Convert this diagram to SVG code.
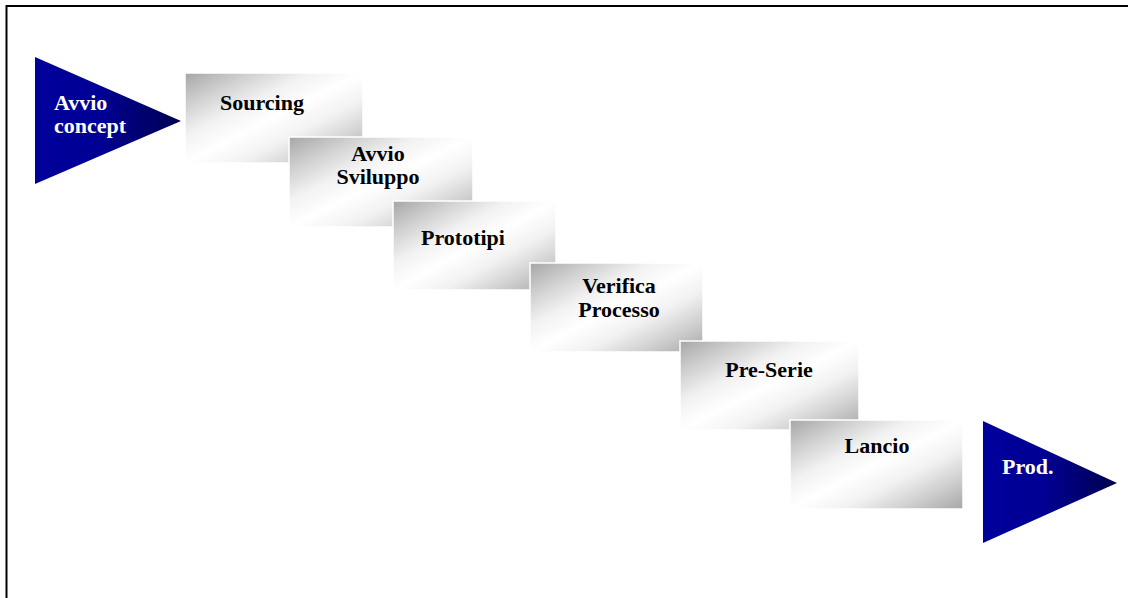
<svg xmlns="http://www.w3.org/2000/svg" width="1128" height="598" viewBox="0 0 1128 598">
  <style>
    .step { stroke: #ffffff; stroke-width: 1.5; fill: url(#steel); }
    .lbl { font-family: "Liberation Serif", "Times New Roman", serif; font-size: 22px; font-weight: bold; fill: #000000; text-anchor: middle; }
    .gate { fill: url(#navy); }
    .glbl { font-family: "Liberation Serif", "Times New Roman", serif; font-size: 22px; font-weight: bold; fill: #ffffff; }
  </style>
  <defs>
    <!-- diagonal metallic shading for the phase boxes: grey corners, broad white band -->
    <linearGradient id="steel" x1="0" y1="0" x2="1" y2="1">
      <stop offset="0" stop-color="#a6a6a6"/>
      <stop offset="0.18" stop-color="#cfcfcf"/>
      <stop offset="0.35" stop-color="#f2f2f2"/>
      <stop offset="0.5" stop-color="#ffffff"/>
      <stop offset="0.65" stop-color="#f2f2f2"/>
      <stop offset="0.82" stop-color="#cfcfcf"/>
      <stop offset="1" stop-color="#a6a6a6"/>
    </linearGradient>
    <!-- start / end gates -->
    <linearGradient id="navy" x1="0" y1="0" x2="1" y2="0">
      <stop offset="0" stop-color="#00009c"/>
      <stop offset="0.45" stop-color="#000094"/>
      <stop offset="1" stop-color="#000050"/>
    </linearGradient>
  </defs>

  <rect x="0" y="0" width="1128" height="598" fill="#ffffff"/>
  <!-- outer frame (open at right and bottom) -->
  <rect x="6.5" y="6" width="1130" height="600" fill="none" stroke="#000000" stroke-width="2"/>

  <g id="connectors"></g>

  <g id="start">
    <polygon class="gate" points="35,57 181,121 35,184"/>
    <text class="glbl" x="54" y="110">Avvio</text>
    <text class="glbl" x="54" y="133">concept</text>
  </g>

  <g id="sourcing">
    <rect class="step" x="185" y="73" width="178" height="90"/>
    <text class="lbl" x="262" y="110">Sourcing</text>
  </g>

  <g id="avvio-sviluppo">
    <rect class="step" x="289" y="137" width="184" height="90"/>
    <text class="lbl" x="378" y="161">Avvio</text>
    <text class="lbl" x="378" y="184">Sviluppo</text>
  </g>

  <g id="prototipi">
    <rect class="step" x="393" y="201" width="163" height="89"/>
    <text class="lbl" x="463" y="245">Prototipi</text>
  </g>

  <g id="verifica-processo">
    <rect class="step" x="530" y="263" width="173" height="89"/>
    <text class="lbl" x="619" y="293">Verifica</text>
    <text class="lbl" x="619" y="317">Processo</text>
  </g>

  <g id="pre-serie">
    <rect class="step" x="680" y="341" width="179" height="89"/>
    <text class="lbl" x="769" y="377">Pre-Serie</text>
  </g>

  <g id="lancio">
    <rect class="step" x="790" y="420" width="173" height="89"/>
    <text class="lbl" x="877" y="453">Lancio</text>
  </g>

  <g id="prod">
    <polygon class="gate" points="983,421 1117,483 983,543"/>
    <text class="glbl" x="1002" y="474">Prod.</text>
  </g>
</svg>
